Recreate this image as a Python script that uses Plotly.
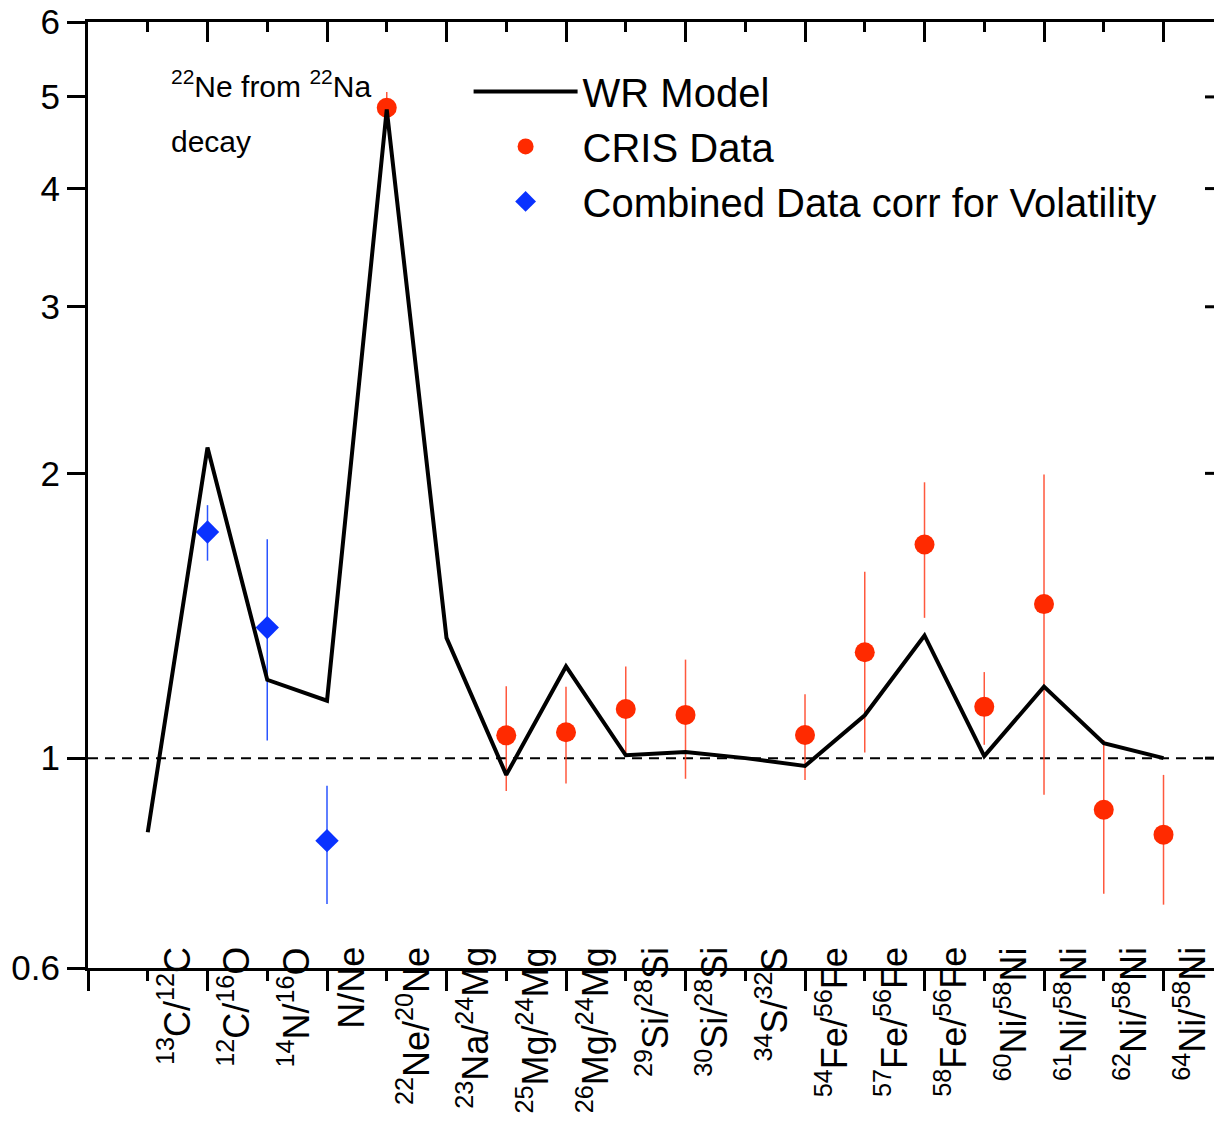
import math
import plotly.graph_objects as go

# ---------------- data ----------------
labels = [
    "<sup>13</sup>C/<sup>12</sup>C", "<sup>12</sup>C/<sup>16</sup>O", "<sup>14</sup>N/<sup>16</sup>O",
    "N/Ne", "<sup>22</sup>Ne/<sup>20</sup>Ne", "<sup>23</sup>Na/<sup>24</sup>Mg",
    "<sup>25</sup>Mg/<sup>24</sup>Mg", "<sup>26</sup>Mg/<sup>24</sup>Mg", "<sup>29</sup>Si/<sup>28</sup>Si",
    "<sup>30</sup>Si/<sup>28</sup>Si", "<sup>34</sup>S/<sup>32</sup>S", "<sup>54</sup>Fe/<sup>56</sup>Fe",
    "<sup>57</sup>Fe/<sup>56</sup>Fe", "<sup>58</sup>Fe/<sup>56</sup>Fe", "<sup>60</sup>Ni/<sup>58</sup>Ni",
    "<sup>61</sup>Ni/<sup>58</sup>Ni", "<sup>62</sup>Ni/<sup>58</sup>Ni", "<sup>64</sup>Ni/<sup>58</sup>Ni",
]
positions = list(range(len(labels)))

wr_model = [0.835, 2.13, 1.21, 1.15, 4.85, 1.34, 0.96, 1.25, 1.007, 1.015,
            1.0, 0.981, 1.11, 1.348, 1.005, 1.19, 1.037, 1.0]

cris_pos = [4, 6, 7, 8, 9, 11, 12, 13, 14, 15, 16, 17]
cris_val = [4.87, 1.057, 1.065, 1.127, 1.111, 1.058, 1.294, 1.682, 1.133, 1.455, 0.882, 0.830]
cris_err = [0.19, 0.134, 0.125, 0.123, 0.16, 0.11, 0.28, 0.275, 0.10, 0.54, 0.163, 0.13]

comb_pos = [1, 2, 3]
comb_val = [1.734, 1.374, 0.818]
comb_err = [0.117, 0.33, 0.117]

y_ticks = [0.6, 1, 2, 3, 4, 5, 6]
y_range = [0.6, 6]
x_range = [-1, 17.845]
reference_level = 1.0

# ---------------- figure ----------------
FONT = "Liberation Sans, Arial, sans-serif"
fig = go.Figure()

fig.add_trace(go.Scatter(
    x=positions, y=wr_model, mode="lines", name="WR Model",
    line=dict(color="black", width=4), xaxis="x2", yaxis="y",
))
fig.add_trace(go.Scatter(
    x=cris_pos, y=cris_val, mode="markers", name="CRIS Data",
    marker=dict(color="#ff2a00", size=20, symbol="circle"),
    error_y=dict(type="data", array=cris_err, visible=True,
                 color="rgba(255,70,40,0.9)", thickness=1.5, width=0),
))
fig.add_trace(go.Scatter(
    x=comb_pos, y=comb_val, mode="markers", name="Combined Data corr for Volatility",
    marker=dict(color="#0a32ff", size=18, symbol="diamond"),
    error_y=dict(type="data", array=comb_err, visible=True,
                 color="#2a55ff", thickness=1.5, width=0),
))

fig.update_layout(
    width=1214, height=1125,
    margin=dict(l=88, r=0, t=22, b=157),
    paper_bgcolor="white", plot_bgcolor="white",
    font=dict(family=FONT, color="black"),
    showlegend=True,
    legend=dict(
        x=0.338, y=0.961, xanchor="left", yanchor="top",
        font=dict(size=40, family=FONT, color="black"),
        bgcolor="rgba(0,0,0,0)", itemwidth=104, tracegroupgap=0,
        traceorder="normal",
    ),
    xaxis=dict(
        range=x_range, showgrid=False, zeroline=False,
        showline=True, linecolor="black", linewidth=3,
        ticks="outside", tickmode="linear", tick0=1, dtick=2,
        ticklen=20, tickwidth=3, tickcolor="black",
        minor=dict(ticks="outside", tick0=0, dtick=1, ticklen=10, tickwidth=3, tickcolor="black"),
        showticklabels=False,
    ),
    xaxis2=dict(
        overlaying="x", side="top", anchor="y",
        range=x_range, showgrid=False, zeroline=False,
        showline=True, linecolor="black", linewidth=3,
        ticks="inside", tickmode="linear", tick0=1, dtick=2,
        ticklen=20, tickwidth=3, tickcolor="black",
        minor=dict(ticks="inside", tick0=0, dtick=1, ticklen=10, tickwidth=3, tickcolor="black"),
        showticklabels=False,
    ),
    yaxis=dict(
        type="log", range=[math.log10(y_range[0]), math.log10(y_range[1])],
        showgrid=False, zeroline=False,
        showline=True, linecolor="black", linewidth=3,
        ticks="outside", ticklen=18, tickwidth=3, tickcolor="black",
        tickmode="array", tickvals=y_ticks, ticktext=[str(v) for v in y_ticks],
        tickfont=dict(size=35, family=FONT, color="black"),
    ),
)

# dashed reference line at 1
fig.add_shape(type="line", xref="paper", x0=0, x1=1, yref="y",
              y0=reference_level, y1=reference_level,
              line=dict(color="black", width=2, dash="10px,7px"), layer="below")

# right-hand inward ticks (the right axis itself lies just outside the frame)
for v in y_ticks[1:-1]:
    fig.add_shape(type="line", xref="paper", x0=0.992, x1=1.0, yref="y", y0=v, y1=v,
                  line=dict(color="black", width=3))

# rotated category labels
for p, lab in zip(positions, labels):
    fig.add_annotation(
        x=p, xref="x", y=0.024, yref="paper", text=lab, textangle=-90,
        xanchor="left", yanchor="top", showarrow=False, xshift=2,
        font=dict(size=36, family=FONT, color="black"),
    )

# note text
fig.add_annotation(x=0.072, xref="paper", y=0.934, yref="paper",
                   text="<sup>22</sup>Ne from <sup>22</sup>Na", showarrow=False,
                   xanchor="left", yanchor="middle",
                   font=dict(size=30, family=FONT, color="black"))
fig.add_annotation(x=0.072, xref="paper", y=0.874, yref="paper",
                   text="decay", showarrow=False, xanchor="left", yanchor="middle",
                   font=dict(size=30, family=FONT, color="black"))

fig.write_html("out.html")
